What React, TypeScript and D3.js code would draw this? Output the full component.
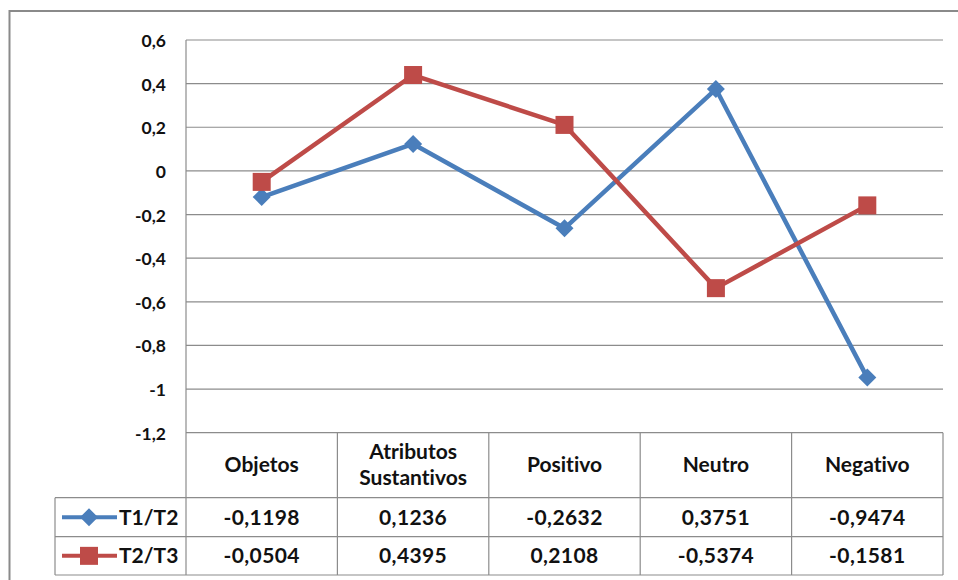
import React from 'react';
import { scaleLinear, scaleBand, line, range } from 'd3';

const categories = ['Objetos', 'Atributos Sustantivos', 'Positivo', 'Neutro', 'Negativo'];
const seriesNames = ['T1/T2', 'T2/T3'];
const t1t2 = [-0.1198, 0.1236, -0.2632, 0.3751, -0.9474];
const t2t3 = [-0.0504, 0.4395, 0.2108, -0.5374, -0.1581];
const yTicks = [0.6, 0.4, 0.2, 0, -0.2, -0.4, -0.6, -0.8, -1, -1.2];

const width = 958;
const height = 580;
const plotLeft = 186;
const plotRight = 943;
const plotTop = 40;
const plotBottom = 432.7;
const headerBottom = 497.7;
const row1Bottom = 536.7;
const row2Bottom = 575;
const legendLeft = 55;

const blue = '#4A7EBB';
const red = '#BE4B48';
const grid = '#8C8C8C';
const font = 'Lato, "Open Sans", sans-serif';

const fmt = (v: number) => String(v).replace('.', ',');

const App = () => {
  const y = scaleLinear().domain([-1.2, 0.6]).range([plotBottom, plotTop]);
  const x = scaleBand().domain(categories).range([plotLeft, plotRight]);
  const cx = (c: string) => (x(c) as number) + x.bandwidth() / 2;

  const series = [
    { name: seriesNames[0], values: t1t2, color: blue, marker: 'diamond' },
    { name: seriesNames[1], values: t2t3, color: red, marker: 'square' },
  ];

  const path = line<number>()
    .x((_, i) => cx(categories[i]))
    .y(d => y(d));

  const marker = (kind: string, px: number, py: number, color: string, key?: any) =>
    kind === 'diamond' ? (
      <path key={key} d={`M${px},${py - 9}L${px + 9},${py}L${px},${py + 9}L${px - 9},${py}Z`} fill={color} />
    ) : (
      <rect key={key} x={px - 9} y={py - 9} width={18} height={18} fill={color} />
    );

  const rowMids = [(headerBottom + row1Bottom) / 2, (row1Bottom + row2Bottom) / 2];

  return (
    <svg width={width} height={height}
      style={{ position: 'absolute', left: 0, top: 0, background: '#fff', fontVariantLigatures: 'none' }}>
      <rect x={9.5} y={11} width={1000} height={600} fill="#fff" stroke="#8a8a8a" strokeWidth={2} />

      {/* gridlines */}
      {yTicks.map(t => (
        <line key={t} x1={plotLeft} x2={plotRight} y1={y(t)} y2={y(t)} stroke={grid} strokeWidth={1.2} />
      ))}
      {yTicks.map(t => (
        <text key={'l' + t} x={166} y={y(t) + 2.5} textAnchor="end" dominantBaseline="middle"
          fontFamily={font} fontWeight="bold" fontSize={17.5} fill="#111">
          {fmt(t)}
        </text>
      ))}

      {/* table */}
      <line x1={plotLeft} x2={plotLeft} y1={plotTop} y2={row2Bottom} stroke={grid} strokeWidth={1.2} />
      {range(1, categories.length + 1).map(i => (
        <line key={'v' + i} x1={plotLeft + i * x.step()} x2={plotLeft + i * x.step()} y1={plotBottom} y2={row2Bottom}
          stroke={grid} strokeWidth={1.2} />
      ))}
      <line x1={legendLeft} x2={legendLeft} y1={headerBottom} y2={row2Bottom} stroke={grid} strokeWidth={1.2} />
      {[headerBottom, row1Bottom, row2Bottom].map(v => (
        <line key={'h' + v} x1={legendLeft} x2={plotRight} y1={v} y2={v} stroke={grid} strokeWidth={1.2} />
      ))}

      {categories.map(c => {
        const parts = c.split(' ');
        const mid = (plotBottom + headerBottom) / 2;
        return (
          <text key={'c' + c} x={cx(c)} textAnchor="middle" fontFamily={font} fontWeight="bold" fontSize={21} fill="#111">
            {parts.map((p, i) => (
              <tspan key={p} x={cx(c)} y={mid + 7 + (i - (parts.length - 1) / 2) * 26}>{p}</tspan>
            ))}
          </text>
        );
      })}

      {series.map((s, r) => (
        <g key={s.name}>
          <line x1={62} x2={117} y1={rowMids[r]} y2={rowMids[r]} stroke={s.color} strokeWidth={4} />
          {marker(s.marker, 89, rowMids[r], s.color)}
          <text x={119} y={rowMids[r] + 7.5} fontFamily={font} fontWeight="bold" fontSize={21} fill="#111">{s.name}</text>
          {s.values.map((v, i) => (
            <text key={i} x={cx(categories[i])} y={rowMids[r] + 7.5} textAnchor="middle"
              fontFamily={font} fontWeight="bold" fontSize={21} letterSpacing={0.4} fill="#111">
              {fmt(v)}
            </text>
          ))}
        </g>
      ))}

      {/* lines */}
      {series.map(s => (
        <g key={'s' + s.name}>
          <path d={path(s.values) as string} fill="none" stroke={s.color} strokeWidth={4.5} strokeLinejoin="round" />
          {s.values.map((v, i) => marker(s.marker, cx(categories[i]), y(v), s.color, i))}
        </g>
      ))}
    </svg>
  );
};

export default App;
